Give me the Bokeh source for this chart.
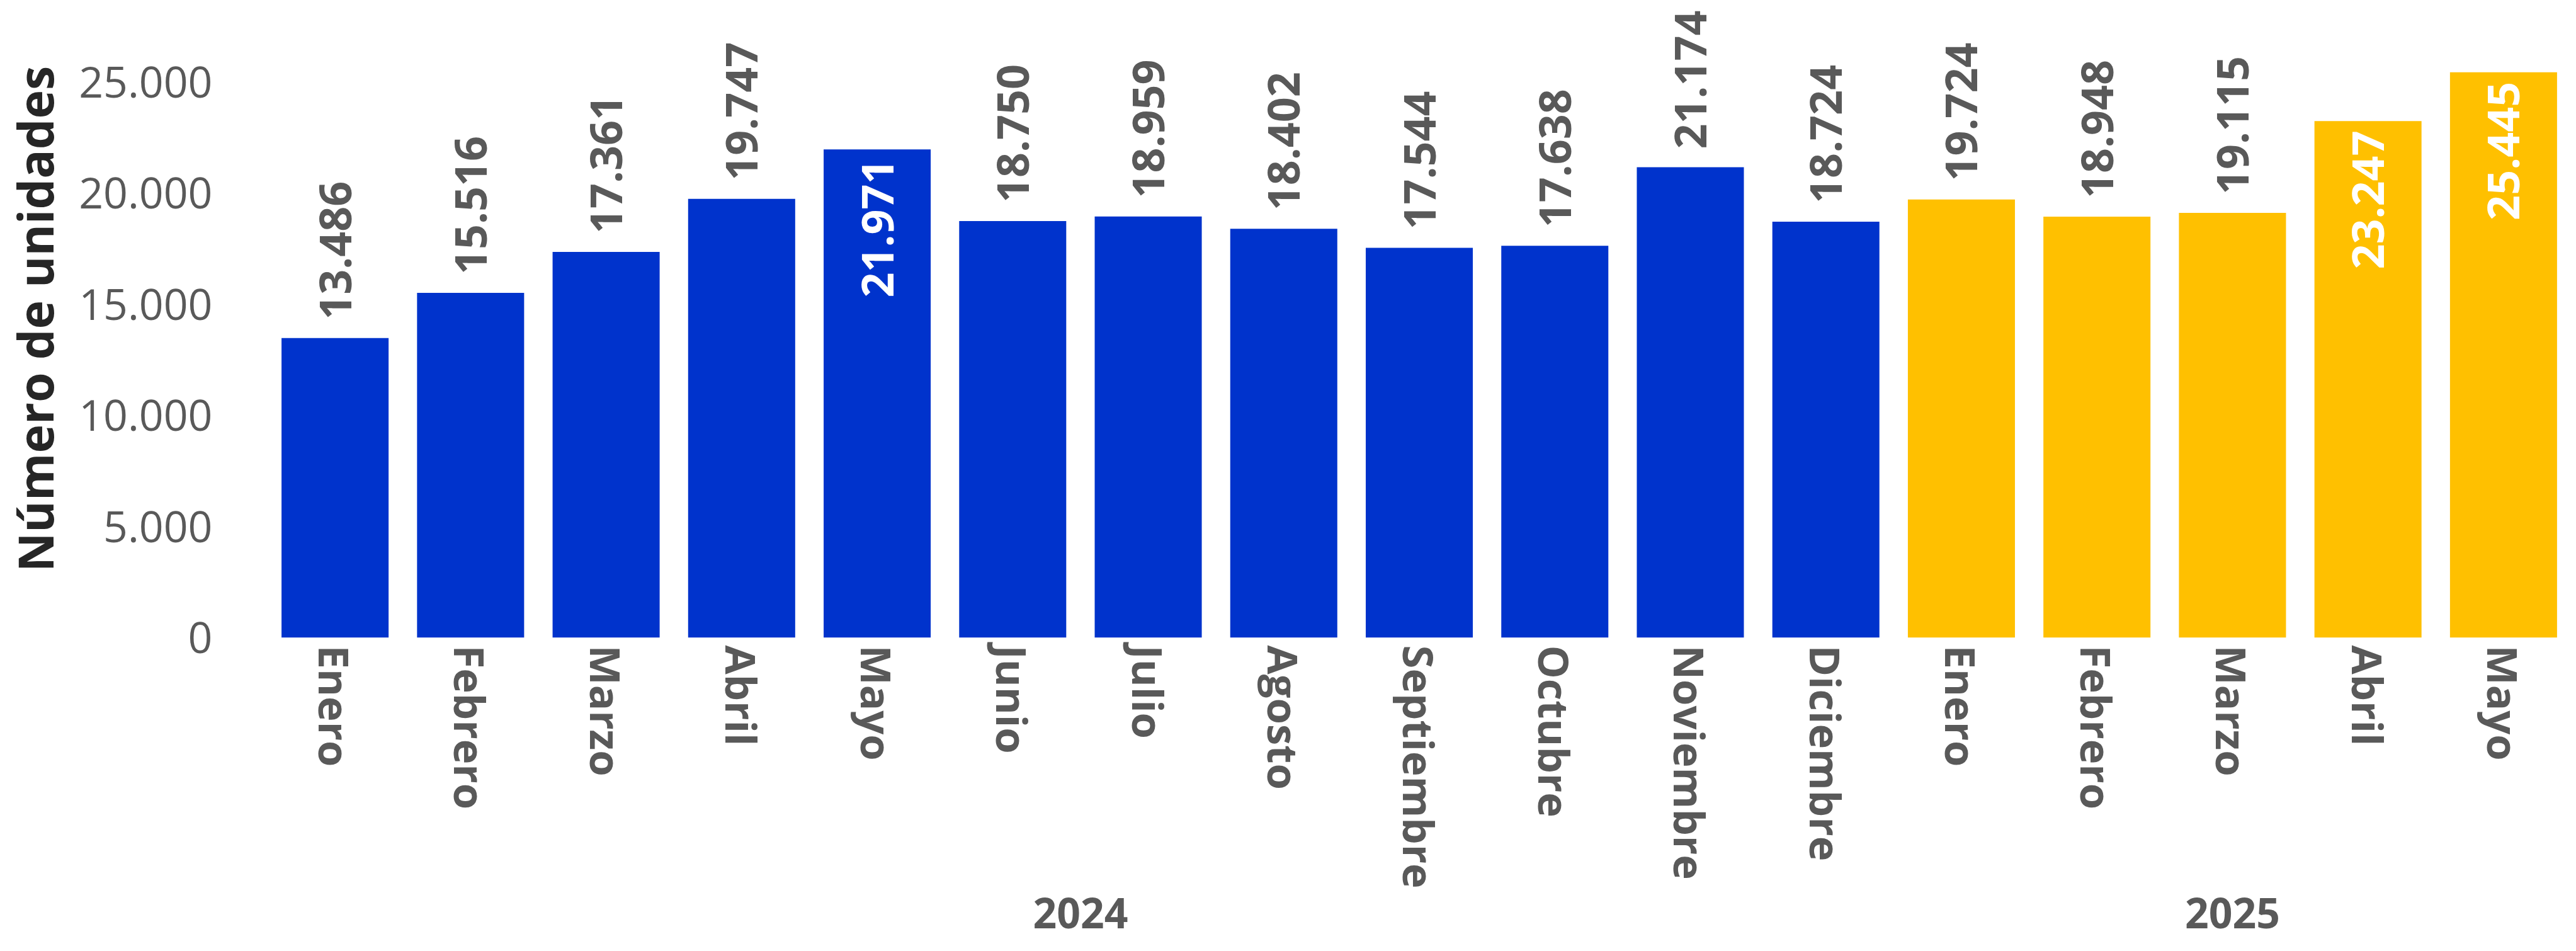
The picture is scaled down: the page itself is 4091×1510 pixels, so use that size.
import math
from bokeh.plotting import figure
from bokeh.models import ColumnDataSource, FactorRange, Range1d, FixedTicker
from bokeh.core.properties import value
from bokeh.embed import file_html
from bokeh.resources import INLINE

# ---- data ----
years = ["2024"] * 12 + ["2025"] * 5
months = ["Enero", "Febrero", "Marzo", "Abril", "Mayo", "Junio", "Julio", "Agosto",
          "Septiembre", "Octubre", "Noviembre", "Diciembre",
          "Enero", "Febrero", "Marzo", "Abril", "Mayo"]
units = [13486, 15516, 17361, 19747, 21971, 18750, 18959, 18402, 17544, 17638,
         21174, 18724, 19724, 18948, 19115, 23247, 25445]
y_ticks = [0, 5000, 10000, 15000, 20000, 25000]
y_tick_labels = ["0", "5.000", "10.000", "15.000", "20.000", "25.000"]
year_colors = {"2024": "#0033CC", "2025": "#FFC000"}
y_title = "Número de unidades"

# ---- layout / style ----
W, H = 4083, 1494
BOTTOM = 482
FRAME_H = H - BOTTOM
LEFT = 418
PX_PER_UNIT = 882 / 25000
Y_MAX = FRAME_H / PX_PER_UNIT
GREY = "#595959"
FONT = "Open Sans"
LABEL_GAP = 29
LABEL_LEN = 220

factors = list(zip(years, months))
colors = [year_colors[y] for y in years]
labels = [f"{v:,}".replace(",", ".") for v in units]
inside = [(v * PX_PER_UNIT + LABEL_GAP + LABEL_LEN) > FRAME_H for v in units]

src = ColumnDataSource(dict(x=factors, top=units, color=colors))
out_src = ColumnDataSource(dict(
    x=[f for f, i in zip(factors, inside) if not i],
    y=[v for v, i in zip(units, inside) if not i],
    t=[l for l, i in zip(labels, inside) if not i]))
in_src = ColumnDataSource(dict(
    x=[f for f, i in zip(factors, inside) if i],
    y=[v for v, i in zip(units, inside) if i],
    t=[l for l, i in zip(labels, inside) if i]))

p = figure(
    x_range=FactorRange(*factors, factor_padding=0, group_padding=0, range_padding=0),
    y_range=Range1d(0, Y_MAX),
    width=W, height=H, output_backend="svg", toolbar_location=None,
    min_border_left=LEFT, min_border_right=0, min_border_top=0,
    min_border_bottom=BOTTOM,
)
try:
    p.title = None
except Exception:
    p.title.visible = False
p.outline_line_color = None
p.xgrid.grid_line_color = None
p.ygrid.grid_line_color = None

p.vbar(x="x", top="top", width=0.79, source=src, fill_color="color", line_color=None)

p.text(x="x", y="y", text="t", source=out_src, angle=math.pi / 2,
       text_align="left", text_baseline="middle", y_offset=-LABEL_GAP,
       text_font=value(FONT), text_font_style="bold", text_font_size="70px",
       text_color=GREY)
p.text(x="x", y="y", text="t", source=in_src, angle=math.pi / 2,
       text_align="right", text_baseline="middle", y_offset=15,
       text_font=value(FONT), text_font_style="bold", text_font_size="70px",
       text_color="white")

# y axis
ya = p.yaxis[0]
ya.ticker = FixedTicker(ticks=y_ticks)
ya.major_label_overrides = {t: l for t, l in zip(y_ticks, y_tick_labels)}
ya.axis_line_color = None
ya.major_tick_line_color = None
ya.minor_tick_line_color = None
ya.major_tick_out = 0
ya.major_tick_in = 0
ya.major_label_standoff = 87
ya.major_label_text_font = FONT
ya.major_label_text_font_size = "68px"
ya.major_label_text_color = GREY
ya.axis_label = y_title
ya.axis_label_standoff = 14
ya.axis_label_text_font = FONT
ya.axis_label_text_font_style = "bold"
ya.axis_label_text_font_size = "77px"
ya.axis_label_text_color = "#262626"

# x axis
xa = p.xaxis[0]
xa.axis_line_color = None
xa.major_tick_line_color = None
xa.minor_tick_line_color = None
xa.major_tick_out = 0
xa.major_tick_in = 0
xa.separator_line_color = None
xa.major_label_orientation = "vertical"
xa.major_label_standoff = 12
xa.major_label_text_font = FONT
xa.major_label_text_font_style = "bold"
xa.major_label_text_font_size = "67px"
xa.major_label_text_color = GREY
xa.group_label_orientation = "horizontal"
xa.group_text_font = FONT
xa.group_text_font_style = "bold"
xa.group_text_font_size = "66px"
xa.group_text_color = GREY

open("out.html", "w").write(file_html(p, INLINE))
